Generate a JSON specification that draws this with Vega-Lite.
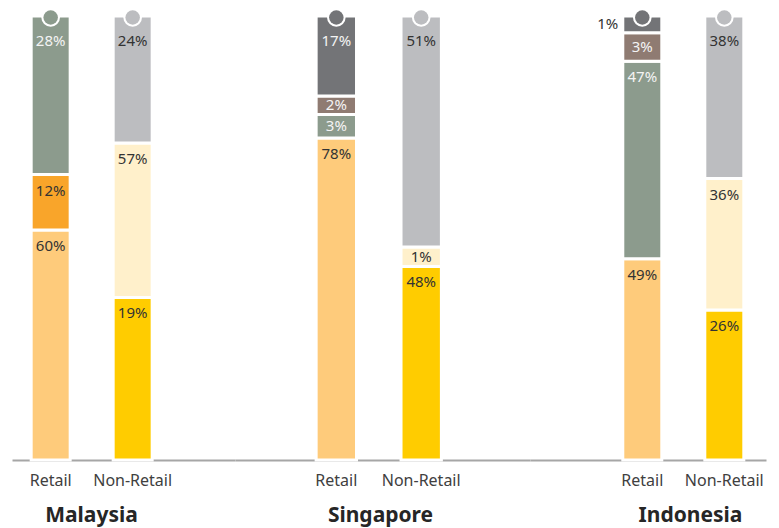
{
  "$schema": "https://vega.github.io/schema/vega-lite/v6.json",
  "padding": {"left": 12, "top": 8, "right": 5, "bottom": 5},
  "background": "white",
  "bounds": "flush",
  "spacing": 0,
  "data": {
    "values": [
      {"country": "Malaysia", "type": "Retail", "seg": "A", "pct": 60, "shown": 51.8},
      {"country": "Malaysia", "type": "Retail", "seg": "B", "pct": 12, "shown": 12.5},
      {"country": "Malaysia", "type": "Retail", "seg": "C", "pct": 28, "shown": 35.7},
      {"country": "Malaysia", "type": "Non-Retail", "seg": "F", "pct": 19, "shown": 36.6},
      {"country": "Malaysia", "type": "Non-Retail", "seg": "G", "pct": 57, "shown": 34.8},
      {"country": "Malaysia", "type": "Non-Retail", "seg": "H", "pct": 24, "shown": 28.6},
      {"country": "Singapore", "type": "Retail", "seg": "A", "pct": 78, "shown": 72.5},
      {"country": "Singapore", "type": "Retail", "seg": "C", "pct": 3, "shown": 5.3},
      {"country": "Singapore", "type": "Retail", "seg": "D", "pct": 2, "shown": 4.2},
      {"country": "Singapore", "type": "Retail", "seg": "E", "pct": 17, "shown": 18.0},
      {"country": "Singapore", "type": "Non-Retail", "seg": "F", "pct": 48, "shown": 43.6},
      {"country": "Singapore", "type": "Non-Retail", "seg": "G", "pct": 1, "shown": 4.4},
      {"country": "Singapore", "type": "Non-Retail", "seg": "H", "pct": 51, "shown": 52.0},
      {"country": "Indonesia", "type": "Retail", "seg": "A", "pct": 49, "shown": 45.3},
      {"country": "Indonesia", "type": "Retail", "seg": "C", "pct": 47, "shown": 44.5},
      {"country": "Indonesia", "type": "Retail", "seg": "D", "pct": 3, "shown": 6.4},
      {"country": "Indonesia", "type": "Retail", "seg": "E", "pct": 1, "shown": 3.8},
      {"country": "Indonesia", "type": "Non-Retail", "seg": "F", "pct": 26, "shown": 33.8},
      {"country": "Indonesia", "type": "Non-Retail", "seg": "G", "pct": 36, "shown": 29.6},
      {"country": "Indonesia", "type": "Non-Retail", "seg": "H", "pct": 38, "shown": 36.6}
    ]
  },
  "config": {
    "view": {"stroke": null},
    "axisX": {
      "domainColor": "#A6A6A6", "domainWidth": 2, "ticks": false, "grid": false,
      "labelFont": "Noto Sans", "labelFontSize": 16, "labelColor": "#404040", "labelPadding": 12, "labelAngle": 0,
      "titleFont": "Noto Sans", "titleFontSize": 21, "titleFontWeight": "bold", "titleColor": "#262626",
      "titleBaseline": "middle", "titleY": 55, "titleAlign": "center"
    },
    "text": {"font": "Noto Sans", "fontSize": 15}
  },
  "hconcat": [
    {
      "width": 223, "height": 444,
      "transform": [
        {"filter": "datum.country === 'Malaysia'"},
        {"stack": "shown", "groupby": ["type"], "sort": [{"field": "seg", "order": "ascending"}], "offset": "normalize", "as": ["y0", "y1"]},
        {"calculate": "(datum.y0 + datum.y1) / 2", "as": "ymid"},
        {"calculate": "datum.pct + '%'", "as": "label"}
      ],
      "encoding": {
        "x": {"field": "type", "type": "nominal", "sort": ["Retail", "Non-Retail"],
          "scale": {"paddingInner": 0.5244, "paddingOuter": 0.622, "align": 0.188},
          "axis": {"title": "Malaysia", "titleX": 79}}
      },
      "layer": [
        {"mark": {"type": "bar", "stroke": "white", "strokeWidth": 3},
         "encoding": {
           "y": {"field": "y1", "type": "quantitative", "scale": {"domain": [0, 1]}, "axis": null},
           "y2": {"field": "y0"},
           "color": {"field": "seg", "type": "nominal", "legend": null,
             "scale": {"domain": ["A","B","C","D","E","F","G","H"], "range": ["#FECB7B","#F9A52A","#8C9B8D","#8F7B72","#737477","#FFCC00","#FFF0CB","#BCBDC0"]}}
         }},
        {"transform": [{"filter": "datum.y1 > 0.999"}],
         "mark": {"type": "circle", "size": 346, "opacity": 1, "color": "white", "yOffset": 1.5},
         "encoding": {"y": {"datum": 1, "type": "quantitative"}}},
        {"transform": [{"filter": "datum.y1 > 0.999"}],
         "mark": {"type": "circle", "size": 210, "opacity": 1, "yOffset": 1.5},
         "encoding": {
           "y": {"datum": 1, "type": "quantitative"},
           "color": {"field": "seg", "type": "nominal", "legend": null}
         }},
        {"transform": [{"filter": "datum.y1 > 0.999 && datum.shown >= 7"}],
         "mark": {"type": "text", "dy": 25, "baseline": "middle"},
         "encoding": {"y": {"field": "y1", "type": "quantitative"}, "text": {"field": "label"},
           "color": {"condition": {"test": "indexof(['C','D','E'], datum.seg) >= 0", "value": "#F4F4F4"}, "value": "#333333"}}},
        {"transform": [{"filter": "datum.y1 <= 0.999 && datum.shown >= 7"}],
         "mark": {"type": "text", "dy": 16, "baseline": "middle"},
         "encoding": {"y": {"field": "y1", "type": "quantitative"}, "text": {"field": "label"},
           "color": {"condition": {"test": "indexof(['C','D','E'], datum.seg) >= 0", "value": "#F4F4F4"}, "value": "#333333"}}}
      ]
    },
    {
      "width": 295, "height": 444,
      "transform": [
        {"filter": "datum.country === 'Singapore'"},
        {"stack": "shown", "groupby": ["type"], "sort": [{"field": "seg", "order": "ascending"}], "offset": "normalize", "as": ["y0", "y1"]},
        {"calculate": "(datum.y0 + datum.y1) / 2", "as": "ymid"},
        {"calculate": "datum.pct + '%'", "as": "label"}
      ],
      "encoding": {
        "x": {"field": "type", "type": "nominal", "sort": ["Retail", "Non-Retail"],
          "scale": {"paddingInner": 0.5244, "paddingOuter": 1.061, "align": 0.478},
          "axis": {"title": "Singapore", "titleX": 145}}
      },
      "layer": [
        {"mark": {"type": "bar", "stroke": "white", "strokeWidth": 3},
         "encoding": {
           "y": {"field": "y1", "type": "quantitative", "scale": {"domain": [0, 1]}, "axis": null},
           "y2": {"field": "y0"},
           "color": {"field": "seg", "type": "nominal", "legend": null,
             "scale": {"domain": ["A","B","C","D","E","F","G","H"], "range": ["#FECB7B","#F9A52A","#8C9B8D","#8F7B72","#737477","#FFCC00","#FFF0CB","#BCBDC0"]}}
         }},
        {"transform": [{"filter": "datum.y1 > 0.999"}],
         "mark": {"type": "circle", "size": 346, "opacity": 1, "color": "white", "yOffset": 1.5},
         "encoding": {"y": {"datum": 1, "type": "quantitative"}}},
        {"transform": [{"filter": "datum.y1 > 0.999"}],
         "mark": {"type": "circle", "size": 210, "opacity": 1, "yOffset": 1.5},
         "encoding": {
           "y": {"datum": 1, "type": "quantitative"},
           "color": {"field": "seg", "type": "nominal", "legend": null}
         }},
        {"transform": [{"filter": "datum.y1 > 0.999 && datum.shown >= 7"}],
         "mark": {"type": "text", "dy": 25, "baseline": "middle"},
         "encoding": {"y": {"field": "y1", "type": "quantitative"}, "text": {"field": "label"},
           "color": {"condition": {"test": "indexof(['C','D','E'], datum.seg) >= 0", "value": "#F4F4F4"}, "value": "#333333"}}},
        {"transform": [{"filter": "datum.y1 <= 0.999 && datum.shown >= 7"}],
         "mark": {"type": "text", "dy": 16, "baseline": "middle"},
         "encoding": {"y": {"field": "y1", "type": "quantitative"}, "text": {"field": "label"},
           "color": {"condition": {"test": "indexof(['C','D','E'], datum.seg) >= 0", "value": "#F4F4F4"}, "value": "#333333"}}},
        {"transform": [{"filter": "datum.y1 <= 0.999 && datum.shown < 7"}],
         "mark": {"type": "text", "baseline": "middle"},
         "encoding": {"y": {"field": "ymid", "type": "quantitative"}, "text": {"field": "label"},
           "color": {"condition": {"test": "indexof(['C','D','E'], datum.seg) >= 0", "value": "#F4F4F4"}, "value": "#333333"}}}
      ]
    },
    {
      "width": 236, "height": 444,
      "transform": [
        {"filter": "datum.country === 'Indonesia'"},
        {"stack": "shown", "groupby": ["type"], "sort": [{"field": "seg", "order": "ascending"}], "offset": "normalize", "as": ["y0", "y1"]},
        {"calculate": "(datum.y0 + datum.y1) / 2", "as": "ymid"},
        {"calculate": "datum.pct + '%'", "as": "label"}
      ],
      "encoding": {
        "x": {"field": "type", "type": "nominal", "sort": ["Retail", "Non-Retail"],
          "scale": {"paddingInner": 0.5244, "paddingOuter": 0.701, "align": 0.807},
          "axis": {"title": "Indonesia", "titleX": 160}}
      },
      "layer": [
        {"mark": {"type": "bar", "stroke": "white", "strokeWidth": 3},
         "encoding": {
           "y": {"field": "y1", "type": "quantitative", "scale": {"domain": [0, 1]}, "axis": null},
           "y2": {"field": "y0"},
           "color": {"field": "seg", "type": "nominal", "legend": null,
             "scale": {"domain": ["A","B","C","D","E","F","G","H"], "range": ["#FECB7B","#F9A52A","#8C9B8D","#8F7B72","#737477","#FFCC00","#FFF0CB","#BCBDC0"]}}
         }},
        {"transform": [{"filter": "datum.y1 > 0.999"}],
         "mark": {"type": "circle", "size": 346, "opacity": 1, "color": "white", "yOffset": 1.5},
         "encoding": {"y": {"datum": 1, "type": "quantitative"}}},
        {"transform": [{"filter": "datum.y1 > 0.999"}],
         "mark": {"type": "circle", "size": 210, "opacity": 1, "yOffset": 1.5},
         "encoding": {
           "y": {"datum": 1, "type": "quantitative"},
           "color": {"field": "seg", "type": "nominal", "legend": null}
         }},
        {"transform": [{"filter": "datum.y1 > 0.999 && datum.shown >= 7"}],
         "mark": {"type": "text", "dy": 25, "baseline": "middle"},
         "encoding": {"y": {"field": "y1", "type": "quantitative"}, "text": {"field": "label"},
           "color": {"condition": {"test": "indexof(['C','D','E'], datum.seg) >= 0", "value": "#F4F4F4"}, "value": "#333333"}}},
        {"transform": [{"filter": "datum.y1 <= 0.999 && datum.shown >= 7"}],
         "mark": {"type": "text", "dy": 16, "baseline": "middle"},
         "encoding": {"y": {"field": "y1", "type": "quantitative"}, "text": {"field": "label"},
           "color": {"condition": {"test": "indexof(['C','D','E'], datum.seg) >= 0", "value": "#F4F4F4"}, "value": "#333333"}}},
        {"transform": [{"filter": "datum.y1 <= 0.999 && datum.shown < 7"}],
         "mark": {"type": "text", "baseline": "middle"},
         "encoding": {"y": {"field": "ymid", "type": "quantitative"}, "text": {"field": "label"},
           "color": {"condition": {"test": "indexof(['C','D','E'], datum.seg) >= 0", "value": "#F4F4F4"}, "value": "#333333"}}},
        {"transform": [{"filter": "datum.y1 > 0.999 && datum.shown < 7"}],
         "mark": {"type": "text", "baseline": "middle", "align": "right", "dx": -24, "color": "#333333"},
         "encoding": {"y": {"field": "ymid", "type": "quantitative"}, "text": {"field": "label"}}}
      ]
    }
  ]
}
